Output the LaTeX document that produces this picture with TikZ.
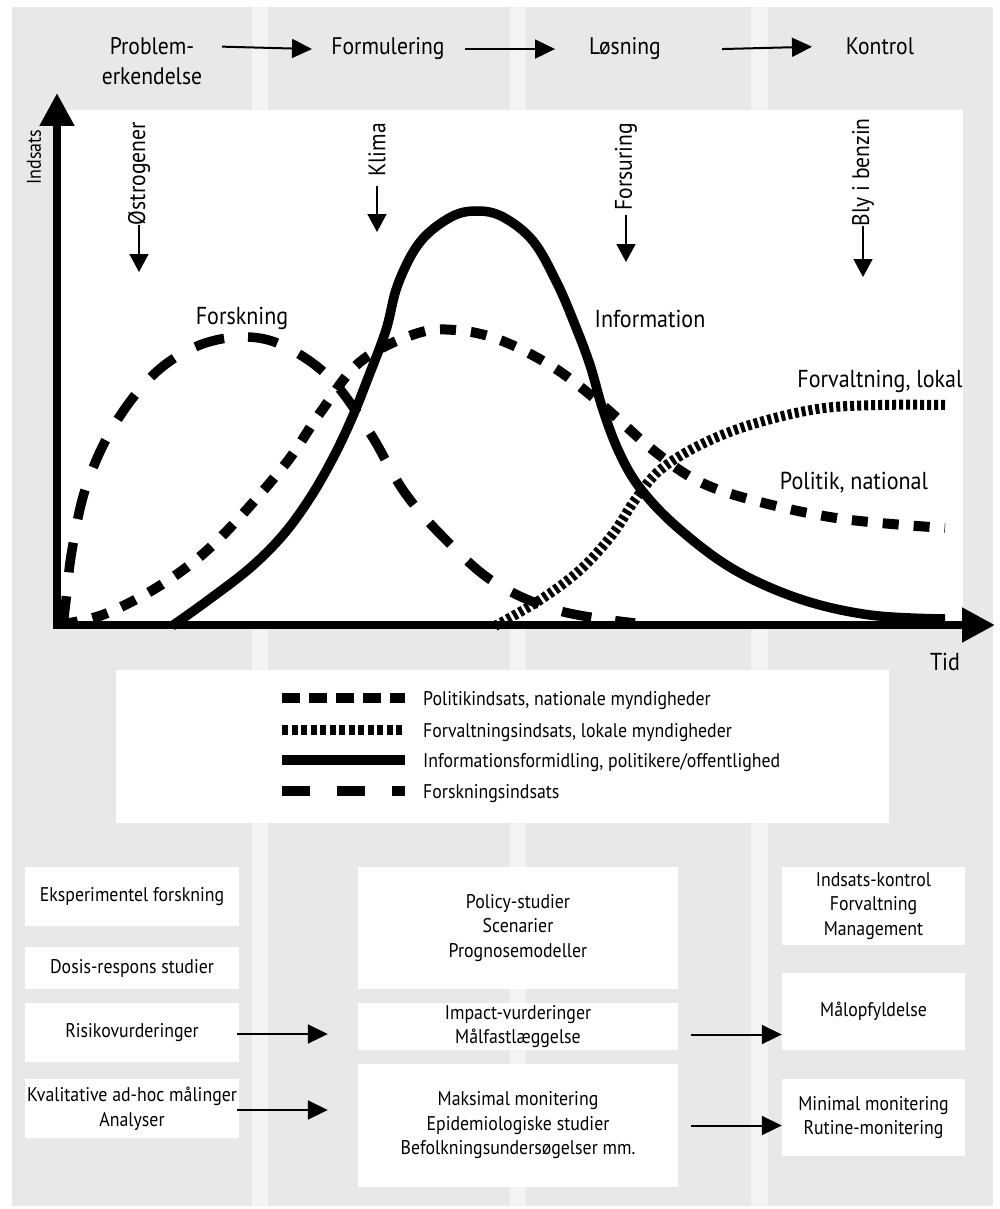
\documentclass[tikz,border=0pt]{standalone}
\usepackage{fontspec}
\setmainfont{PT Sans}[FakeStretch=0.9]
\usetikzlibrary{arrows.meta,calc}
\definecolor{colgray}{HTML}{E8E8E8}
\definecolor{stripe}{HTML}{F3F3F3}
\begin{document}
\begin{tikzpicture}[x=1pt,y=-1pt,
  hdr/.style={font=\fontsize{24}{28}\selectfont, inner sep=0pt, anchor=base},
  lbl/.style={font=\fontsize{24.5}{28}\selectfont, inner sep=0pt, anchor=base},
  evt/.style={font=\fontsize{24}{28}\selectfont, inner sep=0pt, rotate=90, anchor=east},
  wbox/.style={fill=white, inner sep=0pt, align=center, font=\fontsize{19.8}{24.5}\selectfont},
  legtxt/.style={font=\fontsize{19.8}{23}\selectfont, inner sep=0pt, anchor=base west},
  hdrarrow/.style={line width=2pt, -{Triangle[length=20pt,width=19pt]}},
  evtarrow/.style={line width=1.6pt, -{Triangle[length=18pt,width=19pt]}},
  boxarrow/.style={line width=2pt, -{Triangle[length=20pt,width=19pt]}},
  axisline/.style={line width=8pt, -{Triangle[length=33pt,width=33pt]}},
  forsk/.style={line width=9.5pt, dash pattern=on 30pt off 24pt},
  polit/.style={line width=10pt, dash pattern=on 16pt off 15pt},
  forv/.style={line width=10pt, dash pattern=on 4pt off 3pt},
  infoline/.style={line width=9.5pt},
  legforsk/.style={line width=10pt, dash pattern=on 28pt off 27pt},
  legpolit/.style={line width=10pt, dash pattern=on 18pt off 9pt},
  legforv/.style={line width=10pt, dash pattern=on 6pt off 3.5pt},
  leginfo/.style={line width=10pt}
]
\useasboundingbox (0,0) rectangle (999,1209);
% background columns
\fill[stripe] (12,7) rectangle (993,1206);
\fill[colgray] (12,7) rectangle (252,1206);
\fill[colgray] (268,7) rectangle (510,1206);
\fill[colgray] (526,7) rectangle (751,1206);
\fill[colgray] (768,7) rectangle (993,1206);
% plot area
\fill[white] (57,110) rectangle (963,625);

% header
\node[hdr] (prob1) at (152,55) {Problem-};
\node[hdr] (prob2) at (152,85) {erkendelse};
\node[hdr] (form) at (388,55) {Formulering};
\node[hdr] (los) at (625,55) {Løsning};
\node[hdr] (kon) at (880,55) {Kontrol};
\coordinate (a1s) at (222,47); \coordinate (a1e) at (312,47);
\coordinate (a2s) at (465,47); \coordinate (a2e) at (555,47);
\coordinate (a3s) at (722,47); \coordinate (a3e) at (812,47);
\draw[hdrarrow] (prob1.east -| a1s) -- (form.west -| a1e);
\draw[hdrarrow] (form.east -| a2s) -- (los.west -| a2e);
\draw[hdrarrow] (los.east -| a3s) -- (kon.west -| a3e);

% curves
\draw[forsk] plot[smooth, tension=0.6] coordinates {(63,626) (66,600) (72,550) (86,487) (113,427) (152,376) (195,347) (240,337) (282,345) (330,378) (370,433) (405,493) (449,543) (497,584) (560,611) (635,623)};
\draw[polit] plot[smooth, tension=0.6] coordinates {(62,624) (105,614) (164,583) (217,541) (283,467) (320,413) (360,362) (415,334) (455,330) (500,340) (553,367) (600,403) (653,450) (700,482) (760,502) (843,519) (945,528)};
\draw[infoline] plot[smooth, tension=0.6] coordinates {(172,626) (207,601) (250,568) (283,535) (310,498) (333,458) (352,418) (368,378) (386,330) (398,284) (420,242) (451,217) (477,211) (503,217) (533,241) (557,283) (575,325) (590,365) (603,410) (619,452) (640,488) (677,527) (733,569) (800,599) (870,615) (945,619)};
\draw[forv] plot[smooth, tension=0.6] coordinates {(495,626) (540,600) (580,570) (612,535) (635,500) (660,470) (700,445) (750,425) (817,409) (880,405) (945,405)};

% axes
\coordinate (ytip) at (57,93);
\coordinate (xtip) at (995,625);
\draw[axisline] (57,629) -- (ytip);
\draw[axisline] (53,625) -- (xtip);
\node[font=\fontsize{20}{24}\selectfont, inner sep=0pt, rotate=90] (indsats) at (34,157) {Indsats};
\node[lbl] (tid) at (945,670) {Tid};

% curve labels
\node[lbl] (forskL) at (242,324) {Forskning};
\node[lbl] (infoL) at (650,327) {Information};
\node[lbl] (forvL) at (880,387) {Forvaltning, lokal};
\node[lbl] (politL) at (854,489) {Politik, national};

% events
\node[evt] (ostro) at (139,122) {Østrogener};
\coordinate (ostroT) at (137,272);
\draw[evtarrow] (ostro.west) -- (ostro.west |- ostroT);
\node[evt] (klima) at (377,123) {Klima};
\coordinate (klimaT) at (376,232);
\draw[evtarrow] ([yshift=-9pt]klima.west) -- (klima.west |- klimaT);
\node[evt] (forsur) at (626,123) {Forsuring};
\coordinate (forsurT) at (624,262);
\draw[evtarrow] ([yshift=-4pt]forsur.west) -- (forsur.west |- forsurT);
\node[evt] (bly) at (863,118) {Bly i benzin};
\coordinate (blyT) at (865,277);
\draw[evtarrow] (bly.west) -- (bly.west |- blyT);

% legend
\fill[white] (116,670) rectangle (889,823);
\draw[legpolit] (282,698) -- (405,698);
\draw[legforv] (282,730) -- (405,730);
\draw[leginfo] (282,760) -- (405,760);
\draw[legforsk] (282,791) -- (405,791);
\node[legtxt] (l1) at (423,705) {Politikindsats, nationale myndigheder};
\node[legtxt] (l2) at (423,737) {Forvaltningsindsats, lokale myndigheder};
\node[legtxt] (l3) at (423,767) {Informationsformidling, politikere/offentlighed};
\node[legtxt] (l4) at (423,798) {Forskningsindsats};

% bottom boxes
\node[wbox, minimum width=214pt, minimum height=59pt] (eksp) at (132,896.5) {Eksperimentel forskning};
\node[wbox, minimum width=214pt, minimum height=42pt] (dosis) at (132,968) {Dosis-respons studier};
\node[wbox, minimum width=214pt, minimum height=59pt] (risk) at (132,1032.5) {Risikovurderinger};
\node[wbox, minimum width=214pt, minimum height=59pt] (kval) at (132,1108.5) {Kvalitative ad-hoc målinger\\Analyser};
\node[wbox, minimum width=320pt, minimum height=122pt] (policy) at (518,928) {Policy-studier\\Scenarier\\Prognosemodeller};
\node[wbox, minimum width=320pt, minimum height=47pt] (impact) at (518,1026.5) {Impact-vurderinger\\Målfastlæggelse};
\node[wbox, minimum width=320pt, minimum height=123pt] (maks) at (518,1125.5) {Maksimal monitering\\Epidemiologiske studier\\Befolkningsundersøgelser mm.};
\node[wbox, minimum width=183pt, minimum height=78pt] (ctrl) at (873.5,906) {Indsats-kontrol\\Forvaltning\\Management};
\node[wbox, minimum width=183pt, minimum height=77pt] (malop) at (873.5,1011.5) {Målopfyldelse};
\node[wbox, minimum width=183pt, minimum height=77pt] (minimal) at (873.5,1117.5) {Minimal monitering\\Rutine-monitering};

\draw[boxarrow] ($(risk.east)+(-2,1.5)$) -- ($(risk.east -| impact.west)+(-30,1.5)$);
\draw[boxarrow] ($(kval.east)+(-2,1.5)$) -- ($(kval.east -| maks.west)+(-30,1.5)$);
\draw[boxarrow] ($(impact.east)+(13,8)$) -- ($(impact.east -| malop.west)+(0,8)$);
\draw[boxarrow] ($(maks.east)+(13,0)$) -- (maks.east -| minimal.west);
\end{tikzpicture}
\end{document}
